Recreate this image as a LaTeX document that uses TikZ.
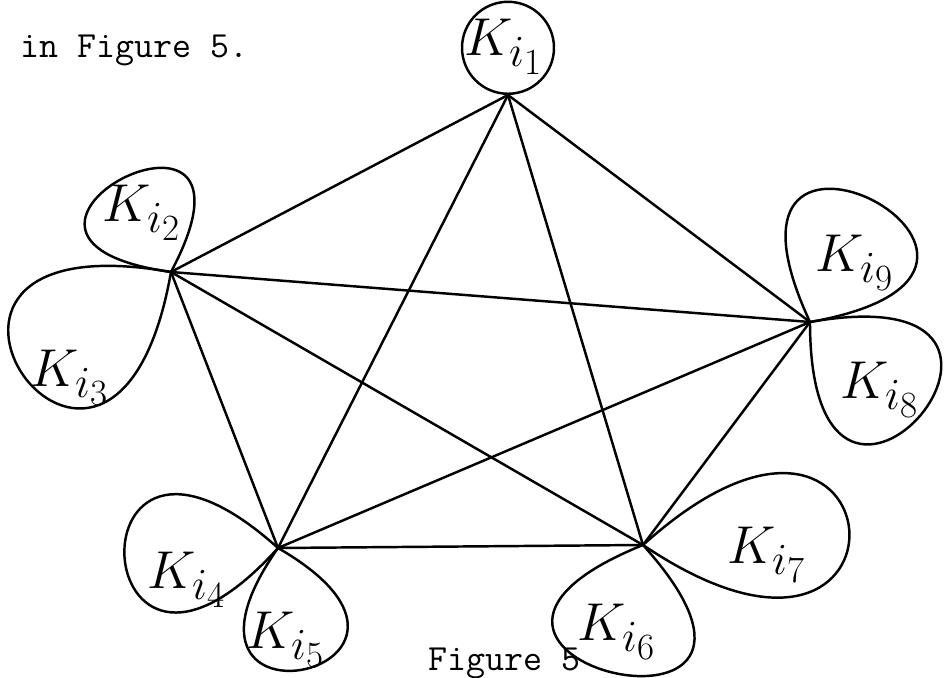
\documentclass[tikz,border=0pt]{standalone}
\usepackage{amsmath}
\usepackage{graphicx}
\usepackage{tikz}
\usetikzlibrary{positioning}
\newcommand{\klabel}[1]{\scalebox{1.22}{$K_{i_{#1}}$}}

\begin{document}
\begin{tikzpicture}[
    x=0.02cm, y=0.02cm,
    edge/.style={line width=1.4pt, line cap=round},
    petal/.style={line width=1.4pt},
    lbl/.style={font=\fontsize{24.88}{28}\selectfont, inner sep=0pt},
    typed/.style={font=\ttfamily\fontsize{21}{24}\selectfont, inner sep=0pt, anchor=base west}
]
\useasboundingbox (0,0) rectangle (944,677);

\node[typed] (intro) at (20,619) {in Figure 5.};
\node[typed] (caption) at (428,7) {Figure 5};

\coordinate (v1) at (508,582);
\coordinate (v2) at (171,405);
\coordinate (v3) at (810,355);
\coordinate (v4) at (278,129);
\coordinate (v5) at (643,132);

\draw[edge] (v1) -- (v2);
\draw[edge] (v1) -- (v3);
\draw[edge] (v1) -- (v4);
\draw[edge] (v1) -- (v5);
\draw[edge] (v2) -- (v3);
\draw[edge] (v2) -- (v4);
\draw[edge] (v2) -- (v5);
\draw[edge] (v3) -- (v4);
\draw[edge] (v3) -- (v5);
\draw[edge] (v4) -- (v5);

\node[petal, draw, circle, minimum size=1.84cm, inner sep=0pt, anchor=south] (loop1) at (v1) {};
\draw[petal] (v2) to[out=172, in=62, distance=4.9cm] (v2);
\draw[petal] (v2) to[out=170, in=260, distance=6.8cm] (v2);
\draw[petal] (v3) to[out=115, in=10, distance=6.0cm] (v3);
\draw[petal] (v3) to[out=270, in=10, distance=6.0cm] (v3);
\draw[petal] (v4) to[out=138, in=228, distance=5.8cm] (v4);
\draw[petal] (v4) to[out=235, in=330, distance=4.9cm] (v4);
\draw[petal] (v5) to[out=202, in=312, distance=6.1cm] (v5);
\draw[petal] (v5) to[out=42, in=326, distance=7.0cm] (v5);

\node[lbl] (k1) at (504,630) {\klabel{1}};
\node[lbl] (k2) at (142,464) {\klabel{2}};
\node[lbl] (k3) at (70,299) {\klabel{3}};
\node[lbl] (k4) at (187,97) {\klabel{4}};
\node[lbl] (k5) at (286,37) {\klabel{5}};
\node[lbl] (k6) at (617,45) {\klabel{6}};
\node[lbl] (k7) at (767,122) {\klabel{7}};
\node[lbl] (k8) at (880,287) {\klabel{8}};
\node[lbl] (k9) at (855,414) {\klabel{9}};
\end{tikzpicture}
\end{document}
